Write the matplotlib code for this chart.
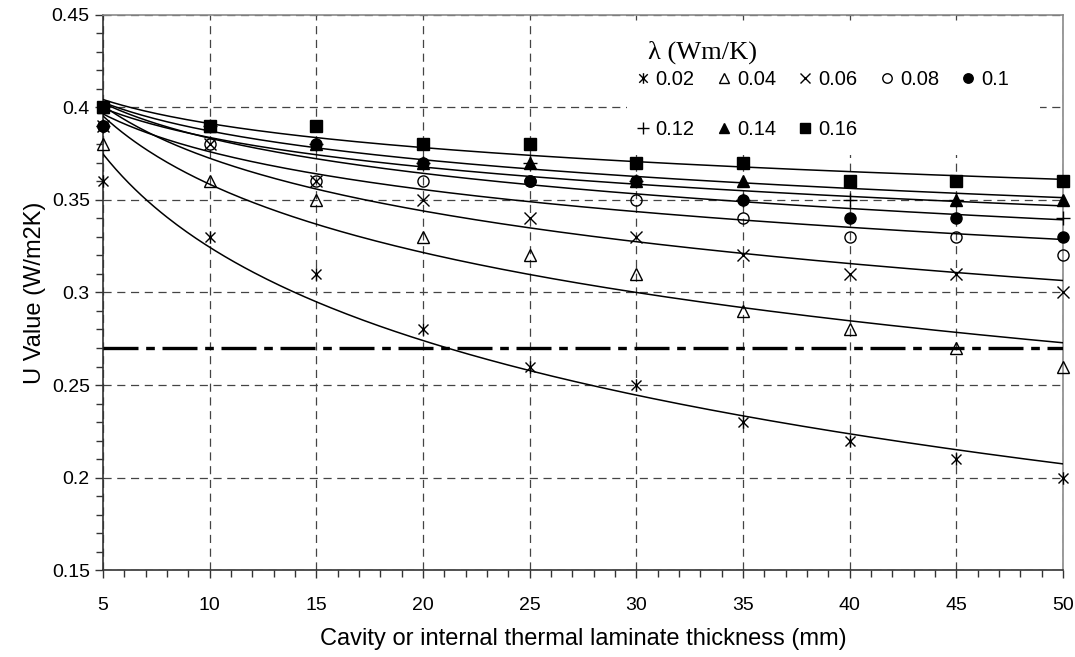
import numpy as np
import matplotlib
matplotlib.use("Agg")
import matplotlib.pyplot as plt
from matplotlib.path import Path
from matplotlib.lines import Line2D
from matplotlib.patches import Rectangle
from matplotlib.ticker import MultipleLocator

plt.rcParams["font.family"] = ["Liberation Sans", "DejaVu Sans"]

# cavity / laminate thickness (mm)
thickness = [5, 10, 15, 20, 25, 30, 35, 40, 45, 50]
lam_labels = ["0.02", "0.04", "0.06", "0.08", "0.1", "0.12", "0.14", "0.16"]

# U values (W/m2K) per lambda
u_002 = [0.36, 0.33, 0.31, 0.28, 0.26, 0.25, 0.23, 0.22, 0.21, 0.20]
u_004 = [0.38, 0.36, 0.35, 0.33, 0.32, 0.31, 0.29, 0.28, 0.27, 0.26]
u_006 = [0.39, 0.38, 0.36, 0.35, 0.34, 0.33, 0.32, 0.31, 0.31, 0.30]
u_008 = [0.39, 0.38, 0.36, 0.36, 0.36, 0.35, 0.34, 0.33, 0.33, 0.32]
u_010 = [0.39, 0.39, 0.38, 0.37, 0.36, 0.36, 0.35, 0.34, 0.34, 0.33]
u_012 = [0.39, 0.39, 0.38, 0.37, 0.37, 0.36, 0.35, 0.35, 0.35, 0.34]
u_014 = [0.40, 0.39, 0.38, 0.37, 0.37, 0.36, 0.36, 0.36, 0.35, 0.35]
u_016 = [0.40, 0.39, 0.39, 0.38, 0.38, 0.37, 0.37, 0.36, 0.36, 0.36]
u_series = [u_002, u_004, u_006, u_008, u_010, u_012, u_014, u_016]

target_u = 0.27

# asterisk: x with a vertical bar
star = Path([(-1, -1), (1, 1), (-1, 1), (1, -1), (0, -1.25), (0, 1.25)],
            [Path.MOVETO, Path.LINETO, Path.MOVETO, Path.LINETO, Path.MOVETO, Path.LINETO])

styles = [
    dict(marker=star, mfc="none", ms=9),
    dict(marker="^", mfc="none", ms=8.5),
    dict(marker="x", mfc="none", ms=8.5),
    dict(marker="o", mfc="none", ms=8),
    dict(marker="o", mfc="black", ms=8),
    dict(marker="+", mfc="none", ms=9.5),
    dict(marker="^", mfc="black", ms=8.5),
    dict(marker="s", mfc="black", ms=8),
]

fig = plt.figure(figsize=(10.75, 6.57), dpi=100)
ax = fig.add_axes([0.0958, 0.1324, 0.893, 0.8448])

x = np.array(thickness, dtype=float)
xs = np.linspace(5, 50, 300)
handles = []
for vals, st, lab in zip(u_series, styles, lam_labels):
    # log trendline like the spreadsheet one
    a, b = np.polyfit(np.log(x), np.array(vals), 1)
    ax.plot(xs, a * np.log(xs) + b, color="black", lw=1.1, zorder=3)
    ax.plot(x, vals, linestyle="none", color="black", mec="black", mew=1.0,
            zorder=4, clip_on=False, **st)
    handles.append(Line2D([], [], linestyle="none", color="black", mec="black",
                          mew=1.0, label=lab, **st))

ax.plot([5, 50], [target_u, target_u], color="black", lw=2.4,
        linestyle=(0, (10.5, 2.3, 2.6, 2.3)), zorder=3)

ax.set_xlim(5, 50)
ax.set_ylim(0.15, 0.45)
ax.xaxis.set_major_locator(MultipleLocator(5))
ax.xaxis.set_minor_locator(MultipleLocator(1))
ax.yaxis.set_minor_locator(MultipleLocator(0.01))
ax.set_yticks(np.arange(0.15, 0.451, 0.05))
ax.set_yticklabels(["0.15", "0.2", "0.25", "0.3", "0.35", "0.4", "0.45"])
ax.tick_params(which="both", direction="out", color="#333333", labelsize=14)
ax.tick_params(which="major", length=6, width=1)
ax.tick_params(which="minor", length=5, width=1)
ax.tick_params(axis="x", pad=13.5)

ax.grid(which="major", color="#444444", lw=0.9, linestyle=(0, (6.5, 4.5)), zorder=1)
for s in ["left", "bottom"]:
    ax.spines[s].set_color("#333333")
    ax.spines[s].set_linewidth(1.2)
for s in ["top", "right"]:
    ax.spines[s].set_color("#8a8a8a")
    ax.spines[s].set_linewidth(1.2)

ax.set_xlabel("Cavity or internal thermal laminate thickness (mm)", fontsize=17, labelpad=10)
ax.set_ylabel("U Value (W/m2K)", fontsize=17, labelpad=4)

# white box behind the legend block (hides the grid there)
ax.add_patch(Rectangle((0.546, 0.748), 0.43, 0.234, transform=ax.transAxes,
                       facecolor="white", edgecolor="none", zorder=2))
ax.text(0.568, 0.933, "λ (Wm/K)", transform=ax.transAxes, ha="left", va="center",
        fontsize=19, family=["Liberation Serif", "DejaVu Serif"], zorder=6)

# legend: two rows, filled column-wise, blanks pad the second row
blank = Line2D([], [], linestyle="none")
order = [0, 5, 1, 6, 2, 7, 3, None, 4, None]
leg_h = [handles[i] if i is not None else blank for i in order]
leg_l = [lam_labels[i] if i is not None else "" for i in order]
leg = ax.legend(leg_h, leg_l, ncol=5, loc="upper left",
                bbox_to_anchor=(0.538, 0.929), frameon=False, fontsize=14.5,
                markerscale=0.85, handlelength=0.7, handletextpad=0.3,
                columnspacing=1.1, labelspacing=1.5, borderpad=0.3)
leg.set_zorder(6)

fig.savefig("out.png", dpi=100)
